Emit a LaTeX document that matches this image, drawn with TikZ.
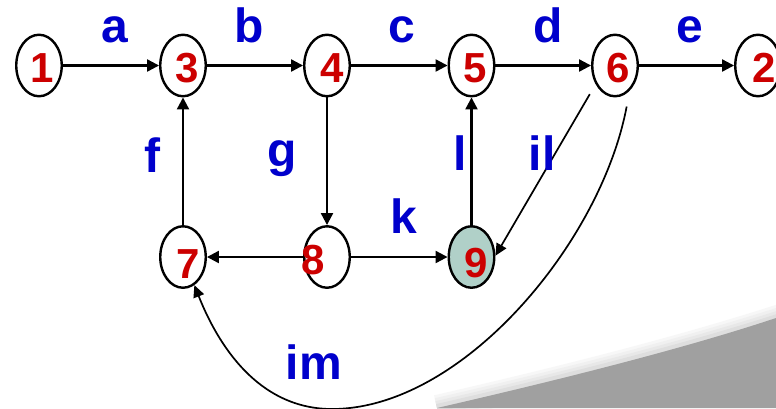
\documentclass[tikz,border=0pt]{standalone}
\usepackage{fontspec}
\setmainfont{Liberation Sans}
\usetikzlibrary{arrows.meta,shapes.geometric}
\definecolor{digred}{RGB}{204,0,0}
\definecolor{labblue}{RGB}{0,0,204}
\definecolor{ninefill}{RGB}{176,208,200}
\definecolor{curlgray}{RGB}{160,160,160}
\begin{document}
\begin{tikzpicture}[x=1pt,y=-1pt,
  vert/.style={ellipse,draw,line width=2.4pt,minimum width=45.5pt,minimum height=61.5pt,inner sep=0pt,fill=white},
  digit/.style={anchor=base,inner sep=0pt,text=digred,font=\fontsize{42}{42}\selectfont\bfseries},
  lab/.style={anchor=base,inner sep=0pt,text=labblue,font=\fontsize{48}{48}\selectfont\bfseries},
  edge/.style={line width=2.2pt,-{Triangle[length=12pt,width=12pt]}},
  thinedge/.style={line width=1.7pt,-{Triangle[length=12pt,width=11pt]}}]
\fill[white] (0,0) rectangle (776,408);
\useasboundingbox (0,0) rectangle (776,408);
\begin{scope}
\clip (0,0) rectangle (776,408);
\draw[black!3,line width=26pt] (437,408) .. controls (550,382) and (680,350) .. (790,314);
\draw[black!6,line width=20pt] (437,408) .. controls (550,382) and (680,350) .. (790,314);
\draw[black!9,line width=14pt] (437,408) .. controls (550,382) and (680,350) .. (790,314);
\draw[black!13,line width=8pt] (437,408) .. controls (550,382) and (680,350) .. (790,314);
\end{scope}
\fill[curlgray] (437,408) .. controls (550,382) and (680,350) .. (776,318) -- (776,408) -- cycle;
% vertices
\node[vert] (n1) at (39,65.5) {};
\node[vert] (n3) at (183,65.5) {};
\node[vert] (n4) at (327,65.5) {};
\node[vert] (n5) at (471.5,65.5) {};
\node[vert] (n6) at (615,65.5) {};
\node[vert] (n2) at (758,65.5) {};
\node[vert] (n7) at (183,257) {};
\node[vert] (n8) at (327,257) {};
\node[vert,fill=ninefill] (n9) at (471.5,257) {};
% edges
\draw[edge] (n1) -- (n3);
\draw[edge] (n3) -- (n4);
\draw[edge] (n4) -- (n5);
\draw[edge] (n5) -- (n6);
\draw[edge] (n6) -- (n2);
\draw[edge] (n7) -- (n3);
\draw[edge] (n4) -- (n8);
\draw[edge] (n9) -- (n5);
\draw[edge] (n8) -- (n7);
\draw[edge] (n8) -- (n9);
\draw[thinedge,shorten <=11.5pt] (n6.224) -- (n9.3);
\draw[thinedge,shorten <=16pt] (n6.300) .. controls (601,243) and (462,409) .. (332,409)
  .. controls (252,409) and (213.5,333.5) .. (n7.292);
% digits
\node[digit] (t1) at (42.5,82) {1};
\node[digit] (t3) at (187,82) {3};
\node[digit] (t4) at (332,82) {4};
\node[digit] (t5) at (475,82) {5};
\node[digit] (t6) at (618.5,82) {6};
\node[digit] (t2) at (764,82) {2};
\node[digit] (t7) at (188,278) {7};
\node[digit] (t8) at (313.5,274) {8};
\node[digit] (t9) at (476,277) {9};
% labels
\node[lab] (la) at (115,42) {a};
\node[lab] (lb) at (249.5,42) {b};
\node[lab] (lc) at (402,42) {c};
\node[lab] (ld) at (548,42) {d};
\node[lab] (le) at (690,42) {e};
\node[lab] (lf) at (152,172) {f};
\node[lab] (lg) at (282,166) {g};
\node[lab] (ll) at (460,170) {l};
\node[lab] (lil) at (542,170) {il};
\node[lab] (lk) at (404,233) {k};
\node[lab] (lim) at (314,379) {im};
\end{tikzpicture}
\end{document}
